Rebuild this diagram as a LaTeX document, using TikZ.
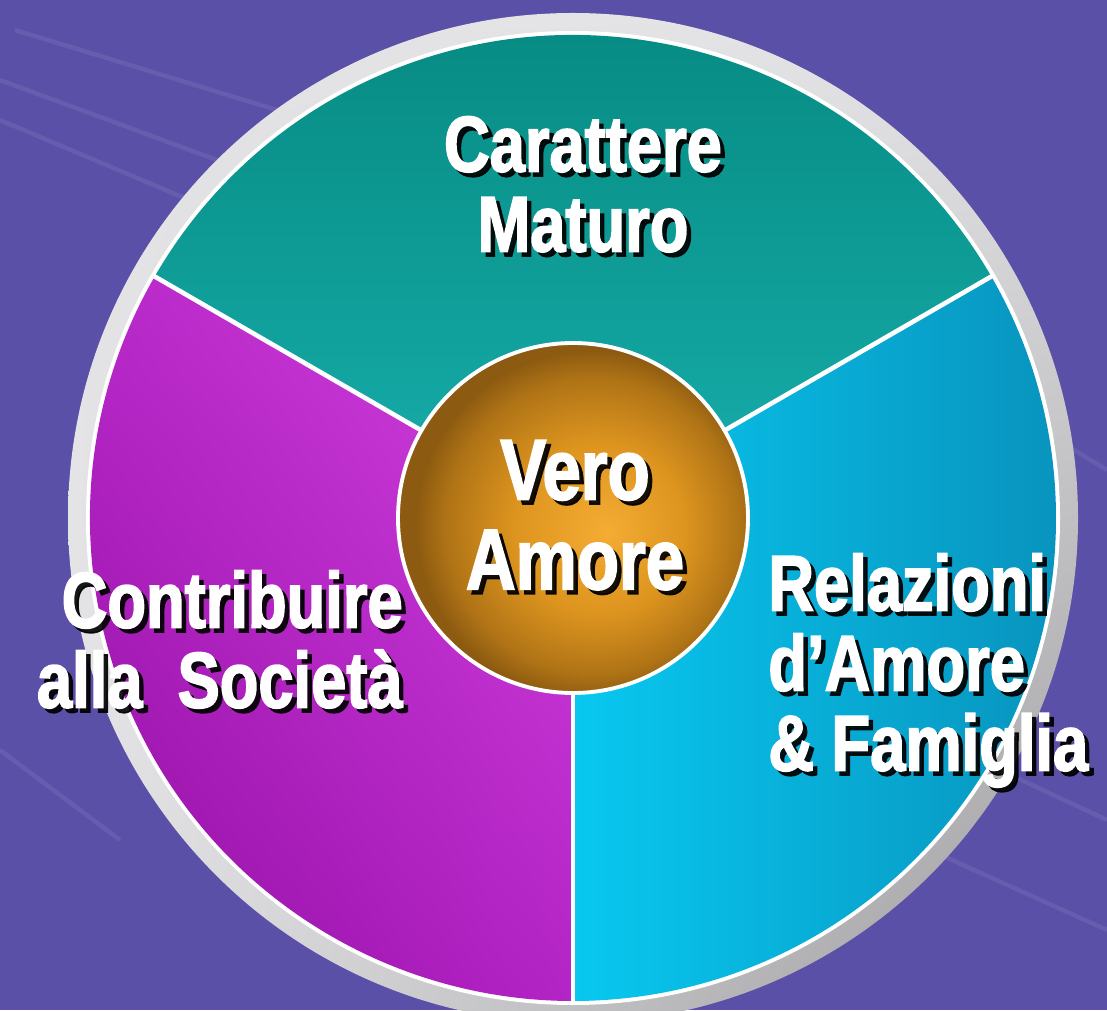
\documentclass[tikz,border=0pt]{standalone}
\usepackage{fontspec}
\setmainfont{Liberation Sans}[FakeStretch=0.8, FakeBold=2]
\usetikzlibrary{calc,shadings}

\definecolor{bgpurple}{HTML}{5A50A8}
\definecolor{ringlt}{HTML}{E4E4E6}
\definecolor{ringdk}{HTML}{9C9A9C}
\definecolor{tealdk}{HTML}{05877F}
\definecolor{teallt}{HTML}{17AEAB}
\definecolor{magdk}{HTML}{8C0A9C}
\definecolor{magmid}{HTML}{B424C6}
\definecolor{maglt}{HTML}{D444E0}
\definecolor{cyanlt}{HTML}{08C8F0}
\definecolor{cyandk}{HTML}{0894BE}
\definecolor{goldlt}{HTML}{F4AC34}
\definecolor{goldmid}{HTML}{DE951F}
\definecolor{goldedge}{HTML}{B07416}
\definecolor{golddk}{HTML}{8C5A10}

\pgfdeclareradialshading{goldball}{\pgfpoint{5bp}{-2bp}}{%
  color(0bp)=(goldlt); color(12bp)=(goldmid); color(21bp)=(goldedge);
  color(25bp)=(golddk); color(50bp)=(golddk)}

\tikzset{
  lbl/.style={font=\bfseries\fontsize{45}{45.5}\selectfont, text=white, inner sep=0pt},
  biglbl/.style={font=\bfseries\fontsize{49}{51}\selectfont, text=white, inner sep=0pt},
  txtshadow/.style={text=black, text opacity=.9},
  sep/.style={draw=white, line width=2.6pt},
  streak/.style={draw=white, opacity=.08, line width=2.5pt}
}

% shadowed label: name, position, options, text
\newcommand\shlabel[4]{%
  \node[#3, txtshadow] (#1-sh) at ($(#2)+(0.09,-0.09)$) {#4};
  \node[#3] (#1) at (#2) {#4};}

\begin{document}
\begin{tikzpicture}
  \useasboundingbox (0,0) rectangle (22.14,20.2);
  \fill[bgpurple] (0,0) rectangle (22.14,20.2);
  % streaks in the background
  \draw[streak] (0,18.6) -- (6.5,16.2);
  \draw[streak] (0,17.8) -- (5.2,15.6);
  \draw[streak] (0.3,19.6) -- (7.5,17.4);
  \draw[streak] (15.5,4.6) -- (22.14,1.6);
  \draw[streak] (17,6.2) -- (22.14,3.8);
  \draw[streak] (19.5,12.4) -- (22.14,10.8);
  \draw[streak] (0,5.2) -- (2.4,3.4);

  \coordinate (c) at (11.46,9.84);
  \begin{scope}[shift={(c)}]
    % outer ring
    \shade[upper left=ringlt, upper right=ringlt, lower left=ringlt, lower right=ringdk]
      (0,0) circle (10.1);
    \fill[white] (0,0) circle (9.74);
    % three sectors
    \shade[upper left=tealdk, upper right=tealdk, lower left=teallt, lower right=teallt]
      (0,0) -- (30:9.66) arc[start angle=30, end angle=150, radius=9.66] -- cycle;
    \shade[upper left=magmid, upper right=maglt, lower left=magdk, lower right=magmid]
      (0,0) -- (150:9.66) arc[start angle=150, end angle=270, radius=9.66] -- cycle;
    \shade[upper left=cyanlt, upper right=cyandk, lower left=cyanlt, lower right=cyandk]
      (0,0) -- (270:9.66) arc[start angle=270, end angle=390, radius=9.66] -- cycle;
    \draw[sep] (30:3.5) -- (30:9.7);
    \draw[sep] (150:3.5) -- (150:9.7);
    \draw[sep] (270:3.5) -- (270:9.7);
    % centre
    \shade[shading=goldball] (0,0) circle (3.5);
    \draw[white, line width=2.2pt] (0,0) circle (3.5);
  \end{scope}

  \shlabel{carattere}{11.66,17.88}{lbl, anchor=north, align=center}{Carattere\\Maturo}
  \shlabel{vero}{11.5,11.4}{biglbl, anchor=north, align=center}{Vero\\Amore}
  \shlabel{societa}{8.06,8.8}{lbl, anchor=north east, align=right}{Contribuire\\alla~~Società}
  \shlabel{famiglia}{15.36,9.14}{lbl, anchor=north west, align=left}{Relazioni\\d’Amore\\\& Famiglia}
\end{tikzpicture}
\end{document}
